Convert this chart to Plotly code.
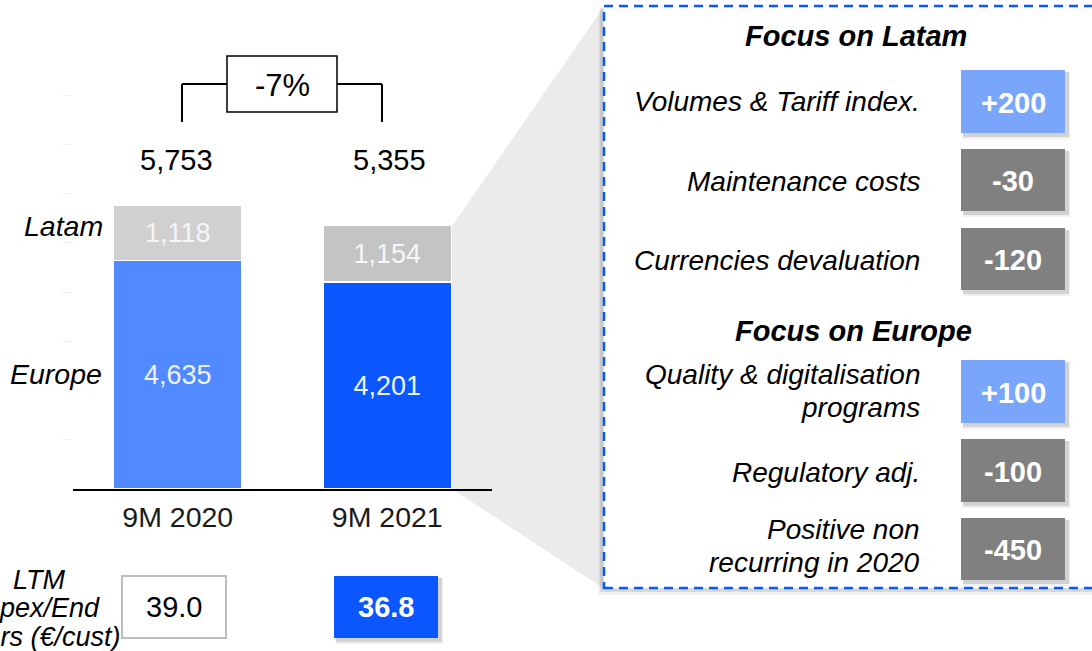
import plotly.graph_objects as go

# ---------------- data ----------------
periods = ["9M 2020", "9M 2021"]
europe = [4635, 4201]
latam = [1118, 1154]
totals = [5753, 5355]
change_label = "-7%"
ltm_values = [39.0, 36.8]
ltm_label = ["LTM", "Opex/End", "users (€/cust)"]
latam_drivers = [["Volumes & Tariff index."], ["Maintenance costs"], ["Currencies devaluation"]]
latam_impacts = [200, -30, -120]
europe_drivers = [["Quality & digitalisation", "programs"], ["Regulatory adj."],
                  ["Positive non", "recurring in 2020"]]
europe_impacts = [100, -100, -450]

# ---------------- styling ----------------
W, H = 1092, 651
FONT = "Arial, Liberation Sans, sans-serif"
EU_COLORS = ["#5189ff", "#0a57ff"]
LA_COLORS = ["#d0d0d0", "#c4c4c4"]
POS_BOX = "#79a6fb"
NEG_BOX = "#808080"
DARK_BLUE = "#0a57ff"


def px(x):
    return x / W


def py(y):
    return 1 - y / H


fig = go.Figure()
fig.add_trace(go.Bar(
    x=periods, y=europe, name="Europe",
    marker=dict(color=EU_COLORS, line=dict(color="white", width=1.5)),
    text=[f"{v:,}" for v in europe], textposition="inside",
    insidetextanchor="middle", textangle=0,
    textfont=dict(family=FONT, size=27, color="#eef2fb"),
    width=0.615, hoverinfo="skip"))
fig.add_trace(go.Bar(
    x=periods, y=latam, name="Latam",
    marker=dict(color=LA_COLORS, line=dict(color="white", width=1.5)),
    text=[f"{v:,}" for v in latam], textposition="inside",
    insidetextanchor="middle", textangle=0,
    textfont=dict(family=FONT, size=27, color="#f6f6f6"),
    width=0.615, hoverinfo="skip"))

shapes = []
annotations = []


def rect(x0, y0, x1, y1, fill=None, line_color=None, lw=0, dash=None, layer="above"):
    d = dict(type="rect", xref="paper", yref="paper",
             x0=px(x0), x1=px(x1), y0=py(y1), y1=py(y0), layer=layer,
             fillcolor=fill if fill else "rgba(0,0,0,0)",
             line=dict(color=line_color if line_color else "rgba(0,0,0,0)", width=lw))
    if dash:
        d["line"]["dash"] = dash
    shapes.append(d)


def line(x0, y0, x1, y1, color="black", width=2):
    shapes.append(dict(type="line", xref="paper", yref="paper",
                       x0=px(x0), x1=px(x1), y0=py(y0), y1=py(y1),
                       line=dict(color=color, width=width)))


def text(x, y, s, size=28, color="black", xanchor="center", italic=False, bold=False):
    t = s
    if bold:
        t = f"<b>{t}</b>"
    if italic:
        t = f"<i>{t}</i>"
    annotations.append(dict(x=px(x), y=py(y), xref="paper", yref="paper", text=t,
                            showarrow=False, xanchor=xanchor, yanchor="middle",
                            font=dict(family=FONT, size=size, color=color)))


def shadow_box(x0, y0, x1, y1):
    rect(x0 + 2, y0 + 2, x1 + 5, y1 + 6, fill="rgba(0,0,0,0.06)")
    rect(x0 + 2, y0 + 2, x1 + 4, y1 + 4, fill="rgba(0,0,0,0.12)")


# funnel from the 9M 2021 bar to the panel
shapes.append(dict(type="path", xref="paper", yref="paper", layer="below",
                   path=f"M {px(452)},{py(226)} L {px(603)},{py(8)} L {px(603)},{py(588)} L {px(452)},{py(489)} Z",
                   fillcolor="#ebebeb", line=dict(width=0)))

# panel shadow + panel
rect(598, 10, 1120, 595, fill="rgba(0,0,0,0.05)")
rect(600, 8, 1120, 592, fill="rgba(0,0,0,0.10)")
rect(604, 6, 1120, 588, fill="white")
rect(604, 6, 1120, 588, line_color="#0a57ff", lw=2.5, dash="9px,6px")

# bracket and change box
line(182, 122, 182, 84)
line(182, 84, 227, 84)
line(337, 84, 382, 84)
line(382, 84, 382, 122)
rect(227, 56, 337, 112, fill="white", line_color="black", lw=1.5)
text(282, 86, change_label, size=31)

# totals
for p, t in zip(periods, totals):
    annotations.append(dict(x=p, y=(489 - 160) / 0.04929, xref="x", yref="y",
                            text=f"{t:,}", showarrow=False, yanchor="middle",
                            xshift=-1 if p == periods[0] else 2,
                            font=dict(family=FONT, size=29, color="black")))

# series labels
text(105, 226, "Latam", italic=True, xanchor="right", size=28.5)
text(104, 374, "Europe", italic=True, xanchor="right", size=28.5)

# LTM row
ltm_y = [580, 608, 637]
for s, yy in zip(ltm_label, ltm_y):
    text(39, yy, s, size=27, italic=True)
rect(122, 576, 226, 638, fill="white", line_color="#bdbdbd", lw=2)
text(174, 607, f"{ltm_values[0]:.1f}", size=29)
shadow_box(334, 576, 438, 638)
rect(334, 576, 438, 638, fill=DARK_BLUE)
text(386, 607, f"{ltm_values[1]:.1f}", size=29, color="white", bold=True)

# panel content
text(856, 36, "Focus on Latam", size=29, italic=True, bold=True)
text(853, 331, "Focus on Europe", size=29, italic=True, bold=True)

latam_rows = [(70, 133), (149, 211), (228, 290)]
latam_text_y = [[102], [182], [261]]
europe_rows = [(360, 423), (439, 502), (518, 580)]
europe_text_y = [[375, 408], [472], [529, 562]]


def driver_rows(drivers, impacts, rows, ys):
    for lines_, val, (y0, y1), yl in zip(drivers, impacts, rows, ys):
        for s, yy in zip(lines_, yl):
            text(922, yy, s, size=28, italic=True, xanchor="right")
        shadow_box(961, y0, 1065, y1)
        rect(961, y0, 1065, y1, fill=POS_BOX if val > 0 else NEG_BOX)
        text(1013, (y0 + y1) / 2 + 1, f"{val:+d}", size=29, color="white", bold=True)


driver_rows(latam_drivers, latam_impacts, latam_rows, latam_text_y)
driver_rows(europe_drivers, europe_impacts, europe_rows, europe_text_y)

fig.update_layout(
    barmode="stack", width=W, height=H, autosize=False,
    margin=dict(l=0, r=0, t=0, b=0),
    paper_bgcolor="white", plot_bgcolor="rgba(0,0,0,0)",
    showlegend=False, bargap=0.385,
    font=dict(family=FONT, color="black"),
    uniformtext=dict(minsize=27, mode="show"),
    xaxis=dict(domain=[px(73), px(492)], range=[-0.5, 1.5], showline=True,
               linecolor="black", linewidth=1.5, ticks="", showgrid=False,
               zeroline=False, automargin=False, ticklabelstandoff=2,
               tickfont=dict(family=FONT, size=28.5, color="#1a1a1a")),
    yaxis=dict(domain=[py(489), py(95)], range=[0, 8000], showgrid=False,
               zeroline=False, showline=False, showticklabels=False,
               ticks="outside", ticklen=10, tickcolor="#efefef",
               tickvals=[1000, 2000, 3000, 4000, 5000, 6000, 7000, 8000],
               automargin=False),
    shapes=shapes, annotations=annotations,
)

fig.write_html("out.html", config={"displayModeBar": False},
               post_script="document.body.style.margin='0';document.body.style.padding='0';")
